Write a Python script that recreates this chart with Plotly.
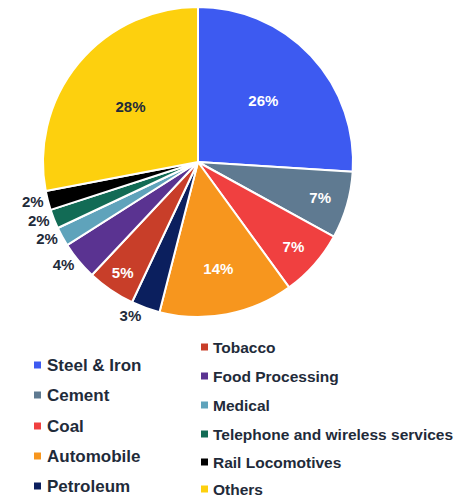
import plotly.graph_objects as go

labels = ["Steel & Iron", "Cement", "Coal", "Automobile", "Petroleum", "Tobacco",
          "Food Processing", "Medical", "Telephone and wireless services",
          "Rail Locomotives", "Others"]
values = [26, 7, 7, 14, 3, 5, 4, 2, 2, 2, 28]
colors = ["#3d5af1", "#5f7a91", "#f04040", "#f7961e", "#0b1f5e", "#c83e29",
          "#5a3391", "#5fa3bb", "#126b55", "#000000", "#fdd00e"]
positions = ["inside", "inside", "inside", "inside", "outside", "inside",
             "outside", "outside", "outside", "outside", "inside"]
inside_colors = ["white"] * 10 + ["#1f2b3a"]

DARK = "#1f2b3a"
FONT = "Liberation Sans, Arial, sans-serif"

fig = go.Figure(go.Pie(
    labels=labels, values=values, sort=False, direction="clockwise", rotation=0,
    marker=dict(colors=colors, line=dict(color="white", width=2)),
    textinfo="percent", textposition=positions,
    insidetextorientation="horizontal",
    insidetextfont=dict(color=inside_colors, size=15, family=FONT, weight="bold"),
    outsidetextfont=dict(color=DARK, size=15, family=FONT, weight="bold"),
    domain=dict(x=[(198 - 155) / 456, (198 + 155) / 456], y=[1 - 317 / 499, 1 - 7 / 499]),
    showlegend=False, hoverinfo="label+percent",
))

# Two-column legend drawn with shapes and annotations
left_rows = [365, 395, 426, 456, 486]
right_rows = [347, 376, 405, 434, 462, 489]
shapes, annotations = [], []
for i, (lab, col) in enumerate(zip(labels, colors)):
    if i < 5:
        xs, xt, yc, fs = 34, 45, left_rows[i], 17
    else:
        xs, xt, yc, fs = 201, 211, right_rows[i - 5], 15.5
    shapes.append(dict(type="rect", xref="paper", yref="paper",
                       x0=xs / 456, x1=(xs + 7) / 456,
                       y0=1 - (yc + 3.5) / 499, y1=1 - (yc - 3.5) / 499,
                       fillcolor=col, line=dict(width=0)))
    annotations.append(dict(text=lab, xref="paper", yref="paper",
                            x=xt / 456, y=1 - yc / 499, xanchor="left", yanchor="middle",
                            showarrow=False,
                            font=dict(size=fs, color=DARK, family=FONT, weight="bold")))

fig.update_layout(width=456, height=499, margin=dict(l=0, r=0, t=0, b=0),
                  paper_bgcolor="white", plot_bgcolor="white",
                  shapes=shapes, annotations=annotations)
fig.write_html("out.html")
